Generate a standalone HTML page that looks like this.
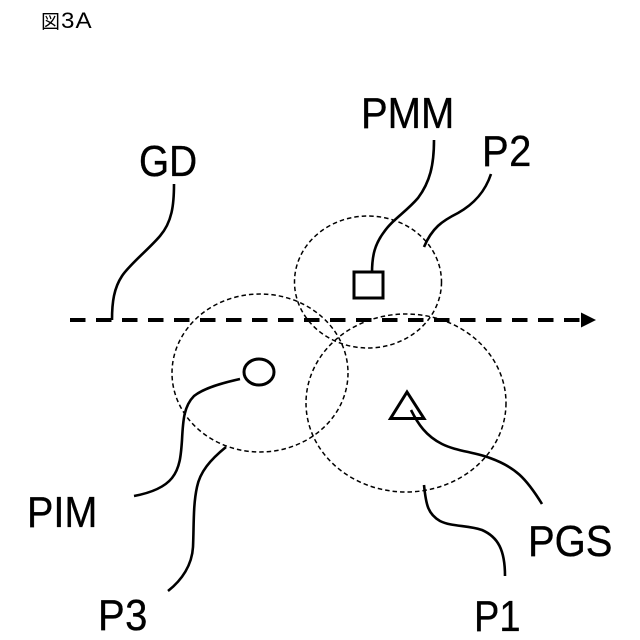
<!DOCTYPE html>
<html>
<head>
<meta charset="utf-8">
<style>
html,body{margin:0;padding:0;background:#fff;width:640px;height:640px;overflow:hidden}
svg{display:block}
text{font-family:"Liberation Sans","Noto Sans CJK JP",sans-serif;fill:#000}
</style>
</head>
<body>
<svg width="640" height="640" viewBox="0 0 640 640" xmlns="http://www.w3.org/2000/svg">
<rect width="640" height="640" fill="#fff"/>
<text x="41" y="28" font-size="19">図</text>
<text transform="translate(61,28) scale(1.1,1)" font-size="22" letter-spacing="1">3A</text>

<g fill="none" stroke="#000" stroke-width="1.5" stroke-dasharray="4.5 3">
<ellipse cx="368" cy="282" rx="73.5" ry="66"/>
<ellipse cx="260" cy="373" rx="88" ry="79"/>
<ellipse cx="406" cy="403" rx="100" ry="89"/>
</g>

<line x1="70" y1="320" x2="584" y2="320" stroke="#000" stroke-width="4" stroke-dasharray="15.5 10.5"/>
<polygon points="596,320 581,312.5 581,327.5" fill="#000"/>

<g fill="none" stroke="#000" stroke-width="3">
<rect x="354" y="272" width="29" height="26"/>
<ellipse cx="259" cy="372" rx="15" ry="13"/>
<polygon points="407,392 390.5,418.5 424,418.5"/>
</g>

<g fill="none" stroke="#000" stroke-width="2.6">
<path d="M174,184 C174,205 172,222 160,236 C148,250 130,264 122,276 C114,288 112,302 112,320"/>
<path d="M434,140 C434,165 430,182 418,198 C406,212 392,220 384,232 C375,244 372,255 372,273"/>
<path d="M491,174 C485,192 474,204 458,213 C442,221 432,228 424,247"/>
<path d="M240,379 C222,383 204,388 194,396 C184,406 183,420 182,440 C181,455 180,468 172,478 C164,488 150,493 134,496"/>
<path d="M226,447 C210,460 200,472 197,487 C193,505 194,525 193,547 C192,565 182,580 168,591"/>
<path d="M411,410 C418,424 426,436 442,444 C456,451 474,452 490,458 C515,467 526,478 542,504"/>
<path d="M424,485 C426,505 428,514 440,521 C452,527 468,525 482,530 C498,537 505,550 505,576"/>
</g>

<g font-size="40" stroke="#000" stroke-width="0.3">
<text transform="translate(139,176) scale(0.97,1.08)">GD</text>
<text transform="translate(361,128) scale(1,1.08)">PMM</text>
<text transform="translate(482,166) scale(1,1.08)" letter-spacing="0.5">P2</text>
<text transform="translate(27,527) scale(0.99,1.08)">PIM</text>
<text transform="translate(98,630) scale(1,1.08)" letter-spacing="0.5">P3</text>
<text transform="translate(474,631) scale(0.95,1.08)">P1</text>
<text transform="translate(528,556) scale(1,1.08)">PGS</text>
</g>
</svg>
</body>
</html>
